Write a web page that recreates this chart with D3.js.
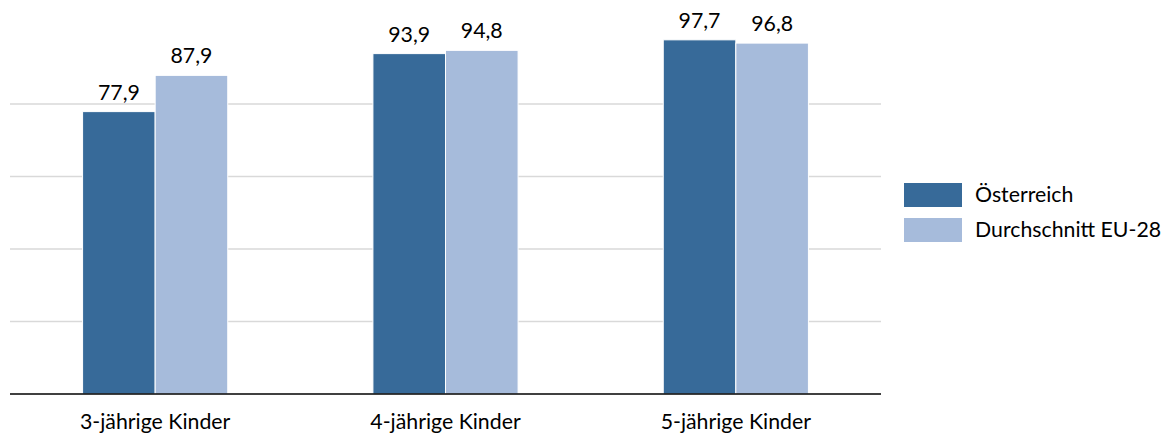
<!DOCTYPE html>
<html><head><meta charset="utf-8">
<script src="https://cdn.jsdelivr.net/npm/d3@7"></script>
<style>body{margin:0;background:#fff}svg{display:block;font-family:Lato,sans-serif}</style>
</head><body><svg id="c" width="1171" height="438"></svg>
<script>
const categories = ["3-jährige Kinder","4-jährige Kinder","5-jährige Kinder"];
const seriesNames = ["Österreich","Durchschnitt EU-28"];
const oesterreich = [77.9, 93.9, 97.7];
const eu28 = [87.9, 94.8, 96.8];
const gridTicks = [20, 40, 60, 80];
const colors = ["#376A99", "#A6BBDB"];

const svg = d3.select("#c");
const mLeft = 10, mRight = 881, mTop = 31.5, mBottom = 394;
const fs = 21.3;
const x = d3.scaleBand().domain(categories).range([mLeft, mRight]).paddingInner(0.5).paddingOuter(0.25);
const y = d3.scaleLinear().domain([0, 100]).range([mBottom, mTop]);
const xs = d3.scaleBand().domain(seriesNames).range([0, x.bandwidth()]);
const series = [oesterreich, eu28];

svg.append("g").selectAll("line").data(gridTicks).join("line")
  .attr("x1", mLeft).attr("x2", mRight).attr("y1", d => y(d)).attr("y2", d => y(d))
  .attr("stroke", "#d9d9d9").attr("stroke-width", 1.3);

const g = svg.append("g");
series.forEach((vals, si) => {
  g.selectAll(null).data(vals).join("rect")
    .attr("x", (d, i) => x(categories[i]) + xs(seriesNames[si]))
    .attr("y", d => y(d)).attr("width", xs.bandwidth()).attr("height", d => y(0) - y(d))
    .attr("fill", colors[si]).attr("stroke", "#fff").attr("stroke-width", 1);
  g.selectAll(null).data(vals).join("text")
    .attr("x", (d, i) => x(categories[i]) + xs(seriesNames[si]) + xs.bandwidth() / 2)
    .attr("y", d => y(d) - 12).attr("text-anchor", "middle")
    .attr("font-size", fs).attr("fill", "#000")
    .text(d => d3.format(".1f")(d).replace(".", ","));
});

svg.append("line").attr("x1", mLeft).attr("x2", mRight).attr("y1", y(0)).attr("y2", y(0))
  .attr("stroke", "#000").attr("stroke-width", 1.3);

const xAxis = svg.append("g").attr("transform", `translate(0,${y(0)})`)
  .call(d3.axisBottom(x).tickSize(0).tickPadding(20));
xAxis.select(".domain").remove();
xAxis.selectAll("text").attr("font-size", fs).attr("fill", "#000").attr("font-family", "Lato, sans-serif");

const lg = svg.append("g").attr("transform", "translate(904,183)");
seriesNames.forEach((n, i) => {
  lg.append("rect").attr("x", 0).attr("y", i * 35).attr("width", 58).attr("height", 24).attr("fill", colors[i]);
  lg.append("text").attr("x", 71).attr("y", i * 35 + 12).attr("dy", "0.35em")
    .attr("font-size", fs).attr("fill", "#000").text(n);
});
</script></body></html>
